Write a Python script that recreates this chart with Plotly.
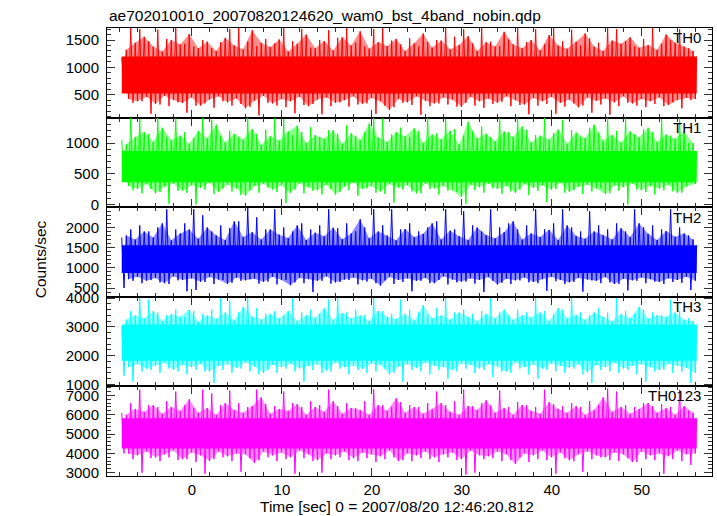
import plotly.graph_objects as go
from plotly.subplots import make_subplots

# ---- data ----
t_start = -7.8          # first sample time [s]
t_end = 56.1            # last sample time [s]
step = 1.0              # spacing between successive readings of one list [s]

panel_names = ["TH0", "TH1", "TH2", "TH3", "TH0123"]
panel_colors = ["#ff0000", "#00ff00", "#0000ff", "#00ffff", "#ff00ff"]
panel_rgb = ["255,0,0", "0,255,0", "0,0,255", "0,255,255", "255,0,255"]

# Each panel: main peaks (hi), main troughs (lo), secondary peaks (hi_b), secondary troughs (lo_b)
th0_hi = [1180, 1720, 1700, 1480, 1690, 1520, 1720, 1430, 1380, 1500, 1350, 1460, 1700, 1720, 1470, 1390,
          1520, 1440, 1720, 1480, 1700, 1360, 1500, 1680, 1540, 1720, 1450, 1380, 1700, 1720, 1490, 1420,
          1530, 1380, 1460, 1500, 1720, 1560, 1700, 1440, 1720, 1470, 1390, 1510, 1720, 1460, 1700, 1420,
          1720, 1480, 1690, 1400, 1530, 1450, 1720, 1700, 1480, 1390, 1520, 1720, 1430, 1490, 1700, 1350]
th0_lo = [700, 350, 380, 150, 320, 290, 360, 170, 300, 340, 260, 380, 300, 330, 280, 120,
          350, 300, 270, 160, 310, 330, 140, 290, 360, 280, 320, 340, 150, 300, 270, 350,
          310, 130, 290, 340, 320, 280, 350, 300, 260, 330, 370, 290, 310, 140, 300, 330,
          150, 280, 340, 300, 170, 320, 130, 290, 350, 300, 270, 330, 290, 360, 250, 400]
th0_hi_b = [1320, 1450, 1560, 1380, 1290, 1500, 1420, 1610, 1350, 1470, 1300, 1540, 1400, 1330, 1680, 1450,
            1370, 1510, 1290, 1430, 1600, 1350, 1480, 1310, 1550, 1400, 1660, 1340, 1460, 1390, 1520, 1300,
            1440, 1620, 1360, 1490, 1330, 1410, 1570, 1300, 1460, 1380, 1650, 1420, 1350, 1500, 1310, 1590,
            1400, 1340, 1470, 1620, 1380, 1300, 1490, 1430, 1550, 1360, 1410, 1320, 1600, 1450, 1380, 1300]
th0_lo_b = [420, 380, 460, 330, 480, 400, 350, 450, 300, 410, 470, 360, 430, 250, 390, 480,
            340, 420, 380, 460, 290, 410, 450, 350, 400, 470, 330, 440, 380, 220, 420, 360,
            470, 390, 340, 450, 410, 280, 460, 380, 430, 350, 470, 400, 320, 440, 380, 460,
            350, 410, 270, 450, 390, 430, 360, 470, 340, 420, 380, 450, 310, 400, 440, 420]

th1_hi = [1050, 1410, 1390, 1150, 1410, 1100, 1400, 1180, 1080, 1410, 1380, 1120, 1200, 1090, 1410, 1150,
          1220, 1400, 1390, 1130, 1180, 1260, 1100, 1210, 1150, 1290, 1120, 1180, 1410, 1400, 1140, 1250,
          1090, 1200, 1410, 1160, 1390, 1230, 1120, 1190, 1270, 1100, 1410, 1180, 1400, 1220, 1130, 1410,
          1160, 1380, 1210, 1100, 1250, 1170, 1410, 1200, 1400, 1140, 1230, 1180, 1390, 1120, 1410, 1000]
th1_lo = [400, 230, 180, 250, 200, 10, 220, 190, 0, 240, 170, 260, 210, 150, 230, 190,
          270, 200, 20, 240, 180, 220, 160, 250, 200, 230, 140, 260, 190, 170, 30, 240,
          210, 180, 250, 160, 220, 200, 10, 230, 190, 260, 170, 210, 240, 150, 220, 40,
          250, 190, 230, 170, 210, 260, 180, 220, 0, 240, 200, 160, 230, 210, 190, 350]
th1_hi_b = [980, 1100, 1180, 1020, 1250, 1050, 1120, 990, 1200, 1080, 1300, 1010, 1150, 1060, 1230, 970,
            1110, 1040, 1190, 1280, 1000, 1130, 1070, 1210, 990, 1160, 1050, 1320, 1090, 1020, 1180, 1110,
            1240, 1000, 1140, 1060, 1200, 980, 1350, 1080, 1150, 1030, 1190, 1100, 1270, 1010, 1120, 1060,
            1220, 990, 1170, 1080, 1300, 1040, 1130, 1010, 1190, 1090, 1250, 1020, 1140, 1070, 1180, 1000]
th1_lo_b = [300, 250, 330, 180, 290, 340, 220, 310, 270, 350, 200, 320, 260, 140, 300, 330,
            240, 310, 190, 340, 280, 230, 320, 160, 290, 350, 250, 300, 210, 330, 270, 310,
            180, 340, 260, 300, 230, 120, 320, 280, 340, 250, 300, 190, 330, 270, 310, 240,
            350, 200, 290, 320, 260, 170, 310, 280, 340, 230, 300, 260, 320, 190, 290, 330]

th2_hi = [1750, 1950, 2050, 1900, 2000, 2450, 1950, 2100, 2450, 2300, 1900, 2050, 1980, 2150, 2480, 2250,
          1950, 2450, 2000, 1900, 2100, 1950, 2050, 2450, 1980, 2100, 1900, 2000, 2450, 2050, 2450, 1950,
          2100, 1900, 2000, 2150, 2450, 1950, 2400, 2050, 1900, 2450, 2000, 2100, 1950, 2050, 2450, 1950,
          2100, 2450, 2000, 1900, 2400, 2050, 1950, 2100, 1900, 2450, 2000, 2050, 1950, 2450, 2000, 1800]
th2_lo = [500, 680, 620, 700, 640, 600, 690, 420, 450, 650, 600, 700, 630, 680, 720, 610,
          660, 590, 700, 640, 620, 400, 680, 610, 650, 700, 590, 660, 620, 690, 600, 650,
          420, 680, 620, 700, 590, 640, 660, 610, 400, 680, 630, 600, 690, 640, 620, 430,
          670, 600, 650, 410, 690, 620, 640, 600, 440, 680, 620, 660, 600, 650, 630, 450]
th2_hi_b = [1800, 1700, 1900, 1750, 2100, 1680, 1850, 1950, 1720, 2000, 1800, 1690, 2150, 1760, 1880, 1700,
            1950, 1820, 1740, 2050, 1690, 1870, 1780, 1990, 1710, 1850, 2200, 1730, 1900, 1800, 1680, 1960,
            1760, 1840, 2100, 1700, 1920, 1780, 1690, 2000, 1810, 1730, 1880, 2150, 1700, 1850, 1760, 1940,
            1690, 2050, 1790, 1720, 1900, 1810, 1700, 1980, 1760, 2100, 1840, 1690, 1910, 1770, 1850, 1700]
th2_lo_b = [720, 780, 680, 750, 620, 790, 700, 740, 660, 770, 710, 600, 760, 690, 730, 650,
            780, 700, 570, 750, 720, 680, 790, 640, 710, 760, 690, 730, 560, 770, 700, 740,
            680, 750, 620, 790, 710, 660, 740, 700, 770, 590, 730, 690, 760, 650, 720, 780,
            700, 640, 750, 710, 680, 770, 600, 730, 690, 760, 720, 650, 740, 700, 780, 680]

th3_hi = [3000, 3550, 4000, 3950, 3500, 3400, 3600, 3350, 3550, 3450, 3600, 4000, 3900, 3500, 4000, 3650,
          3450, 3550, 3400, 4000, 3500, 3600, 3450, 3950, 4000, 3500, 3600, 3400, 4000, 3550, 3450, 3950,
          3600, 3500, 3400, 3650, 4000, 3500, 3600, 3450, 3550, 4000, 3500, 3400, 3600, 3500, 4000, 3550,
          3450, 3600, 4000, 3500, 3400, 3650, 3500, 4000, 3550, 3450, 3600, 3500, 3400, 3950, 3550, 3300]
th3_lo = [1300, 1100, 1450, 1500, 1400, 1550, 1450, 1350, 1500, 1450, 1050, 1500, 1400, 1550, 1450, 1350,
          1500, 1400, 1550, 1450, 1100, 1500, 1400, 1450, 1550, 1350, 1500, 1400, 1450, 1550, 1400, 1100,
          1500, 1450, 1350, 1500, 1200, 1450, 1550, 1400, 1500, 1250, 1450, 1400, 1550, 1350, 1200, 1500,
          1450, 1400, 1550, 1350, 1050, 1500, 1450, 1400, 1500, 1350, 1100, 1450, 1500, 1400, 1450, 1050]
th3_hi_b = [3250, 3400, 3300, 3550, 3200, 3450, 3350, 3600, 3180, 3400, 3280, 3500, 3220, 3700, 3350, 3260,
            3450, 3300, 3550, 3200, 3400, 3320, 3650, 3250, 3480, 3300, 3400, 3200, 3550, 3350, 3280, 3450,
            3220, 3750, 3300, 3400, 3250, 3500, 3350, 3200, 3450, 3300, 3600, 3250, 3400, 3330, 3500, 3200,
            3650, 3300, 3420, 3250, 3500, 3350, 3200, 3450, 3300, 3700, 3280, 3400, 3350, 3500, 3250, 3200]
th3_lo_b = [1600, 1700, 1550, 1650, 1750, 1500, 1680, 1600, 1720, 1450, 1650, 1700, 1580, 1750, 1620, 1400,
            1680, 1600, 1720, 1550, 1650, 1700, 1480, 1750, 1600, 1650, 1550, 1720, 1680, 1350, 1620, 1700,
            1580, 1750, 1650, 1600, 1500, 1720, 1680, 1550, 1700, 1620, 1450, 1750, 1600, 1680, 1550, 1720,
            1650, 1580, 1700, 1420, 1680, 1600, 1750, 1550, 1650, 1700, 1600, 1500, 1720, 1650, 1580, 1400]

th0123_hi = [6100, 6600, 7300, 6500, 6400, 6700, 7200, 6500, 6350, 7300, 7100, 6500, 7250, 6600, 6400, 7300,
             6550, 6450, 7200, 6600, 6400, 6700, 6500, 7300, 6450, 6600, 6350, 6700, 7300, 6500, 6400, 6650,
             6500, 6400, 6600, 7200, 6500, 6700, 7300, 6450, 6600, 6500, 7250, 6400, 6650, 6500, 6400, 7300,
             6550, 6450, 6600, 6400, 6700, 6500, 7350, 7200, 6500, 6400, 6600, 6450, 6550, 6400, 7300, 6200]
th0123_lo = [4000, 3700, 3000, 3750, 3600, 3800, 3650, 3700, 3550, 2950, 3700, 3800, 3600, 3050, 3750, 3650,
             3800, 3600, 3700, 2950, 3750, 3600, 3000, 3700, 3800, 3650, 3600, 3750, 3550, 3700, 3800, 3650,
             3600, 3750, 3700, 3550, 3800, 3650, 2900, 3000, 3700, 3750, 3600, 3650, 3800, 3550, 3700, 3650,
             2950, 3750, 3600, 3050, 3700, 3800, 3650, 3600, 3750, 3550, 3700, 3650, 2950, 3700, 3600, 3400]
th0123_hi_b = [6000, 6300, 6150, 6500, 6050, 6400, 6200, 6800, 6100, 6350, 6000, 6600, 6250, 6100, 6450, 6900,
               6050, 6300, 6200, 6550, 6000, 6400, 6150, 6700, 6050, 6350, 6250, 6000, 6500, 6200, 6850, 6100,
               6400, 6050, 6300, 6600, 6150, 6000, 6450, 6250, 6750, 6100, 6350, 6000, 6500, 6200, 6050, 6650,
               6300, 6100, 6450, 6000, 6250, 6900, 6150, 6400, 6050, 6300, 6600, 6100, 6350, 6000, 6450, 6100]
th0123_lo_b = [4000, 3900, 4100, 3800, 3950, 4150, 3700, 4050, 3900, 3600, 4100, 3850, 4000, 3950, 3500, 4100,
               3900, 4050, 3800, 4150, 3950, 3650, 4000, 3900, 4100, 3750, 4050, 3950, 3850, 4150, 3600, 4000,
               3900, 4100, 3800, 3950, 4050, 3700, 4150, 3900, 3850, 4100, 3950, 3450, 4000, 3900, 4150, 3800,
               4050, 3650, 3950, 4100, 3900, 3800, 4050, 3950, 3550, 4100, 3900, 4000, 3850, 4150, 3950, 4000]

# dense (solid) core of each band: [low, high]
core_bands = [[520, 1200], [360, 870], [870, 1560], [1820, 3080], [4250, 5820]]

# axis ranges and tick labels
y_ranges = [[80, 1720], [-47, 1415], [283, 2500], [930, 4045], [2830, 7465]]
y_ticks = [[500, 1000, 1500], [0, 500, 1000], [500, 1000, 1500, 2000],
           [1000, 2000, 3000, 4000], [3000, 4000, 5000, 6000, 7000]]
y_minor = [100, 100, 100, 200, 200]
x_range = [-9.44, 57.8]
x_ticks = [0, 10, 20, 30, 40, 50]

series = [
    (th0_hi, th0_lo, th0_hi_b, th0_lo_b),
    (th1_hi, th1_lo, th1_hi_b, th1_lo_b),
    (th2_hi, th2_lo, th2_hi_b, th2_lo_b),
    (th3_hi, th3_lo, th3_hi_b, th3_lo_b),
    (th0123_hi, th0123_lo, th0123_hi_b, th0123_lo_b),
]

FONT = "Liberation Sans, Arial, Helvetica, sans-serif"

fig = make_subplots(rows=5, cols=1, shared_xaxes=True, vertical_spacing=0)

for k in range(5):
    row = k + 1
    col = panel_colors[k]
    hi, lo, hib, lob = series[k]
    clo, chi = core_bands[k]
    n = len(hi)
    times = [t_start + i * step for i in range(n)]

    # light fringe: filled between secondary troughs and secondary peaks
    fig.add_trace(go.Scatter(x=[t + 0.75 * step for t in times], y=lob, mode="lines",
                             line=dict(width=0, color=col), hoverinfo="skip",
                             showlegend=False), row=row, col=1)
    fig.add_trace(go.Scatter(x=[t + 0.5 * step for t in times], y=hib, mode="lines",
                             line=dict(width=0, color=col), fill="tonexty",
                             fillcolor="rgba(%s,0.45)" % panel_rgb[k], hoverinfo="skip",
                             showlegend=False), row=row, col=1)
    # dense core
    fig.add_trace(go.Scatter(x=[t_start, t_end, t_end, t_start, t_start],
                             y=[clo, clo, chi, chi, clo],
                             fill="toself", fillcolor=col, mode="lines",
                             line=dict(width=0), hoverinfo="skip", showlegend=False),
                  row=row, col=1)
    # light curve: peak, trough, secondary peak, secondary trough
    xs, ys = [], []
    for i in range(n):
        t = times[i]
        xs += [t, t + step * 0.25, t + step * 0.5, t + step * 0.75]
        ys += [hi[i], lo[i], hib[i], lob[i]]
    xs.append(t_end)
    ys.append(chi)
    fig.add_trace(go.Scatter(x=xs, y=ys, mode="lines",
                             line=dict(color=col, width=1),
                             showlegend=False), row=row, col=1)

    fig.update_yaxes(range=y_ranges[k], tickvals=y_ticks[k],
                     ticktext=[str(v) for v in y_ticks[k]],
                     ticks="inside", ticklen=8, tickwidth=1, tickcolor="#333",
                     minor=dict(ticks="inside", ticklen=4, dtick=y_minor[k],
                                tickcolor="#333"),
                     showline=True, linecolor="black", linewidth=1, mirror="ticks",
                     showgrid=False, zeroline=False,
                     tickfont=dict(family=FONT, size=15, color="black"),
                     ticklabelstandoff=4,
                     row=row, col=1)
    fig.update_xaxes(range=x_range, tickvals=x_ticks,
                     ticks="inside", ticklen=8, tickwidth=1, tickcolor="#333",
                     minor=dict(ticks="inside", ticklen=4, dtick=2, tick0=0,
                                tickcolor="#333"),
                     showline=True, linecolor="black", linewidth=1, mirror="ticks",
                     showgrid=False, zeroline=False,
                     showticklabels=(row == 5),
                     tickfont=dict(family=FONT, size=15, color="black"),
                     row=row, col=1)

# labels
label_y = [0.9777, 0.779, 0.578, 0.379, 0.1786]
for k in range(5):
    fig.add_annotation(text=panel_names[k], xref="paper", yref="paper",
                       x=0.985, y=label_y[k], xanchor="right", yanchor="middle",
                       showarrow=False, font=dict(family=FONT, size=15, color="black"))

fig.add_annotation(text="ae702010010_20070820124620_wam0_bst_4band_nobin.qdp",
                   xref="paper", yref="paper", x=0, y=1.029, xanchor="left",
                   yanchor="middle", showarrow=False,
                   font=dict(family=FONT, size=15.5, color="black"))
fig.add_annotation(text="Counts/sec", xref="paper", yref="paper", x=-0.1107, y=0.484,
                   textangle=-90, xanchor="center", yanchor="middle", showarrow=False,
                   font=dict(family=FONT, size=15.5, color="black"))
fig.add_annotation(text="Time [sec] 0 = 2007/08/20 12:46:20.812", xref="paper", yref="paper",
                   x=0.480, y=-0.069, xanchor="center", yanchor="middle", showarrow=False,
                   font=dict(family=FONT, size=15.5, color="black"))

fig.update_layout(width=717, height=516,
                  margin=dict(l=107, r=5, t=28, b=40),
                  paper_bgcolor="white", plot_bgcolor="white",
                  font=dict(family=FONT, size=15, color="black"),
                  showlegend=False)

fig.write_html("out.html", config={"displayModeBar": False},
               post_script="document.body.style.margin='0px';document.body.style.overflow='hidden';")
